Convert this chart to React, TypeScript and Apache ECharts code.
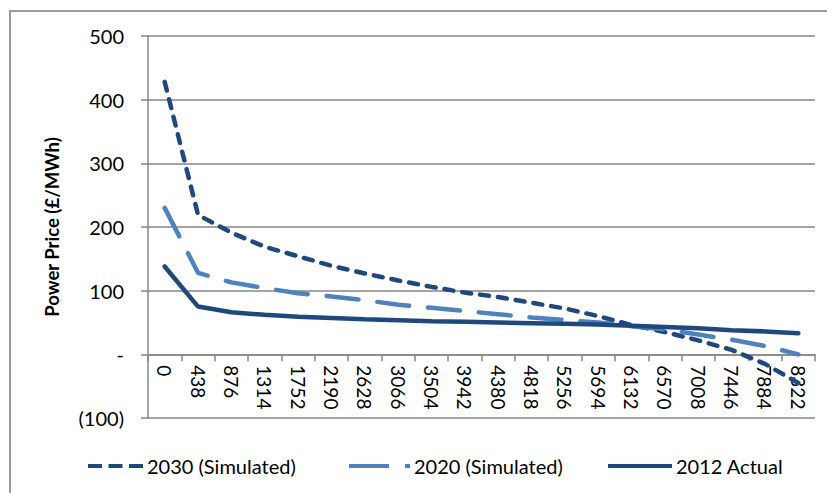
import React, { useEffect, useRef } from "react";
import * as echarts from "echarts";

const categories = ["0","438","876","1314","1752","2190","2628","3066","3504","3942","4380","4818","5256","5694","6132","6570","7008","7446","7884","8322"];
const sim2030 = [428, 219, 191, 169, 154, 139, 127, 116, 106, 97, 90, 81, 72, 60, 46, 35, 22, 7, -15, -45];
const sim2020 = [230, 128, 113, 104, 96, 91, 85, 78, 73, 68, 63, 58, 54, 50, 44, 39, 31, 23, 13, 0];
const actual2012 = [138, 75, 66, 62, 59, 57, 55, 53.5, 52, 51, 50, 49, 48, 47, 45, 43, 41, 38, 36, 33];
const seriesNames = ["2030 (Simulated)", "2020 (Simulated)", "2012 Actual"];
const yTicks = { min: -100, max: 500, interval: 100 };

const DARK = "#1F497D";
const LIGHT = "#4F81BD";
const FONT = "Lato, 'Open Sans', sans-serif";

const GRID_TOP = 36;
const GRID_BOTTOM = 75;
const H = 493;

export default function App() {
  const ref = useRef<HTMLDivElement>(null);
  useEffect(() => {
    const chart = echarts.init(ref.current!, null, { renderer: "svg" });
    const plotH = H - GRID_TOP - GRID_BOTTOM;
    const zeroOffset = -(plotH * (0 - yTicks.min)) / (yTicks.max - yTicks.min);
    const legendText = { fontFamily: FONT, fontSize: 20, color: "#000", padding: [0, 0, 0, -1] };
    const mkLegend = (name: string, left: number, width: number, icon: string, color: string) => ({
      top: 451,
      left,
      itemWidth: width,
      itemHeight: 4.5,
      textStyle: legendText,
      data: [{ name, icon, itemStyle: { color } }],
    });
    chart.setOption({
      animation: false,
      backgroundColor: "#fff",
      textStyle: { fontFamily: FONT },
      grid: { left: 148, right: 12, top: GRID_TOP, bottom: GRID_BOTTOM, containLabel: false },
      graphic: [
        { type: "line", shape: { x1: 9, y1: 11, x2: 827, y2: 11 }, style: { stroke: "#9a9a9a", lineWidth: 2 } },
        { type: "line", shape: { x1: 10, y1: 11, x2: 10, y2: 493 }, style: { stroke: "#9a9a9a", lineWidth: 2 } },
      ],
      legend: [
        mkLegend(seriesNames[0], 83, 55, "path://M0 0h14v4h-14z M20.5 0h14v4h-14z M41 0h14v4h-14z", DARK),
        mkLegend(seriesNames[1], 344, 61, "path://M0 0h40v4h-40z M56 0h5v4h-5z", LIGHT),
        mkLegend(seriesNames[2], 603, 64, "path://M0 0h64v4h-64z", DARK),
      ],
      xAxis: {
        type: "category",
        data: categories,
        boundaryGap: true,
        position: "bottom",
        offset: zeroOffset,
        axisLine: { onZero: false, lineStyle: { color: "#868686", width: 1.5 } },
        axisTick: { show: true, inside: false, length: 7, lineStyle: { color: "#868686", width: 1.5 } },
        axisLabel: { rotate: -90, margin: 11, fontSize: 19, color: "#000", fontFamily: FONT, interval: 0 },
        splitLine: { show: false },
      },
      yAxis: {
        type: "value",
        min: yTicks.min,
        max: yTicks.max,
        interval: yTicks.interval,
        name: "Power Price (£/MWh)",
        nameLocation: "middle",
        nameGap: 87,
        nameTextStyle: { fontSize: 18.5, fontWeight: "bold", color: "#000", fontFamily: FONT },
        axisLine: { show: true, lineStyle: { color: "#868686", width: 1.5 } },
        axisTick: { show: true, length: 7, lineStyle: { color: "#868686", width: 1.5 } },
        axisLabel: {
          margin: 24,
          fontSize: 20,
          color: "#000",
          fontFamily: FONT,
          formatter: (v: number) => (v === 0 ? "-" : v < 0 ? `(${-v})` : String(v)),
        },
        splitLine: { show: true, lineStyle: { color: "#868686", width: 1.5 } },
      },
      series: [
        {
          name: seriesNames[0],
          type: "line",
          data: sim2030,
          symbol: "none",
          lineStyle: { color: DARK, width: 4.5, type: [9, 9], cap: "round" },
          itemStyle: { color: DARK },
        },
        {
          name: seriesNames[1],
          type: "line",
          data: sim2020,
          symbol: "none",
          lineStyle: { color: LIGHT, width: 4.5, type: [32, 19], cap: "round" },
          itemStyle: { color: LIGHT },
        },
        {
          name: seriesNames[2],
          type: "line",
          data: actual2012,
          symbol: "none",
          lineStyle: { color: DARK, width: 4.5, type: "solid", cap: "round" },
          itemStyle: { color: DARK },
        },
      ],
    });
    return () => chart.dispose();
  }, []);
  return <div ref={ref} style={{ position: "fixed", left: 0, top: 0, width: 827, height: 493 }} />;
}
